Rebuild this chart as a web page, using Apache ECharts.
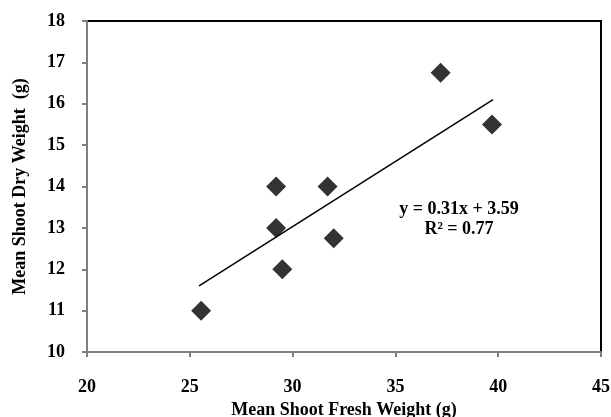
<!DOCTYPE html>
<html>
<head>
<meta charset="utf-8">
<script src="https://cdn.jsdelivr.net/npm/echarts@6/dist/echarts.min.js"></script>
<style>
  html, body { margin: 0; padding: 0; background: #fff; }
  #main { width: 611px; height: 417px; }
</style>
</head>
<body>
<div id="main"></div>
<script>
// mean shoot fresh weight (g) vs mean shoot dry weight (g)
var freshWeight = [25.55, 29.2, 29.2, 29.5, 31.7, 32.0, 37.2, 39.7];
var dryWeight = [11.0, 14.0, 13.0, 12.0, 14.0, 12.75, 16.75, 15.5];
// linear trendline ends as drawn
var trendX = [25.45, 39.75];
var trendY = [11.6, 16.1];
var eqText = ['y = 0.31x + 3.59', 'R² = 0.77'];

var FONT = '"Liberation Serif", "Times New Roman", serif';

var points = freshWeight.map(function (x, i) { return [x, dryWeight[i]]; });
var trend = trendX.map(function (x, i) { return [x, trendY[i]]; });

var chart = echarts.init(document.getElementById('main'), null, { renderer: 'canvas' });

var option = {
  backgroundColor: '#fff',
  animation: false,
  grid: {
    left: 87,
    right: 10,
    top: 21,
    bottom: 65,
    outerBoundsMode: 'none',
    containLabel: false,
    show: true,
    borderColor: '#000',
    borderWidth: 2,
    backgroundColor: 'transparent'
  },
  xAxis: {
    type: 'value',
    min: 20,
    max: 45,
    interval: 5,
    name: 'Mean Shoot Fresh Weight (g)',
    nameLocation: 'middle',
    nameGap: 44,
    nameTextStyle: { fontFamily: FONT, fontWeight: 'bold', fontSize: 18, color: '#000' },
    axisLine: { show: true, lineStyle: { color: '#808080', width: 2 } },
    axisTick: { show: true, length: 5, lineStyle: { color: '#808080', width: 2 } },
    axisLabel: { margin: 26, fontFamily: FONT, fontWeight: 'bold', fontSize: 18, color: '#000' },
    splitLine: { show: false }
  },
  yAxis: {
    type: 'value',
    min: 10,
    max: 18,
    interval: 1,
    name: 'Mean Shoot Dry Weight  (g)',
    nameLocation: 'middle',
    nameGap: 58,
    nameTextStyle: { fontFamily: FONT, fontWeight: 'bold', fontSize: 18, color: '#000' },
    axisLine: { show: true, lineStyle: { color: '#808080', width: 2 } },
    axisTick: { show: true, length: 5, lineStyle: { color: '#808080', width: 2 } },
    axisLabel: { margin: 22, fontFamily: FONT, fontWeight: 'bold', fontSize: 18, color: '#000' },
    splitLine: { show: false }
  },
  series: [
    {
      name: 'trend',
      type: 'line',
      data: trend,
      showSymbol: false,
      symbol: 'none',
      lineStyle: { color: '#000', width: 1.5 },
      silent: true,
      z: 2
    },
    {
      name: 'data',
      type: 'scatter',
      data: points,
      symbol: 'diamond',
      symbolSize: [20, 20],
      itemStyle: { color: '#000' },
      z: 3
    }
  ],
  graphic: [
    {
      type: 'text',
      x: 459,
      y: 199,
      style: {
        text: eqText.join('\n'),
        font: 'bold 18px ' + FONT,
        fill: '#000',
        align: 'center',
        verticalAlign: 'top',
        lineHeight: 20
      }
    }
  ]
};

chart.setOption(option);
</script>
</body>
</html>
